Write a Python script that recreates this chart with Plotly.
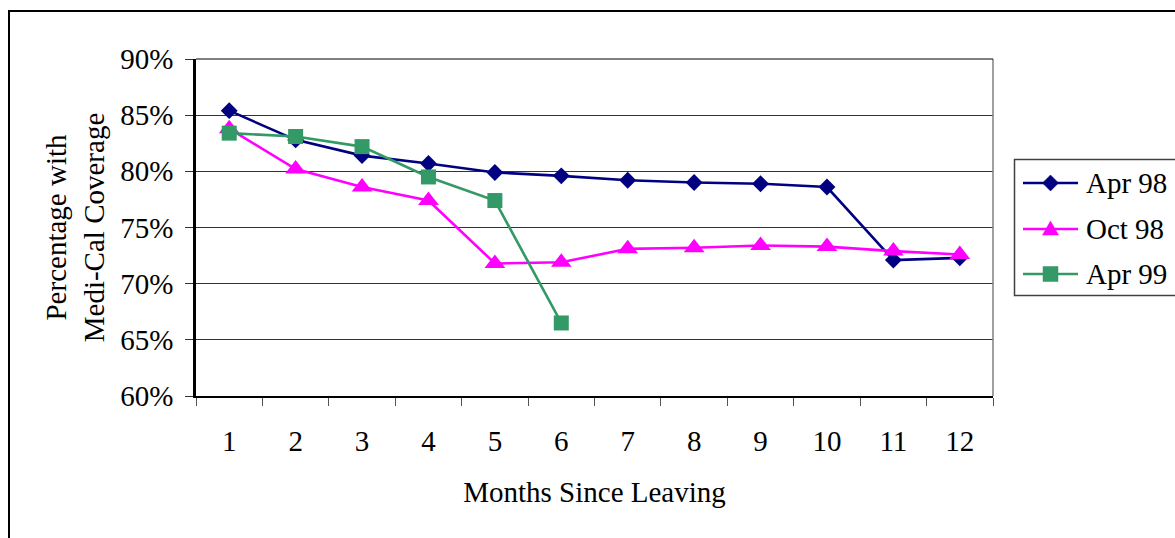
import plotly.graph_objects as go

# Months since leaving (category axis)
months = ["1", "2", "3", "4", "5", "6", "7", "8", "9", "10", "11", "12"]

# Share of leavers with Medi-Cal coverage, by exit cohort (percent)
apr98 = [85.4, 82.8, 81.4, 80.7, 79.9, 79.6, 79.2, 79.0, 78.9, 78.6, 72.1, 72.3]
oct98 = [83.8, 80.2, 78.6, 77.4, 71.8, 71.9, 73.1, 73.2, 73.4, 73.3, 72.9, 72.6]
apr99 = [83.4, 83.1, 82.2, 79.5, 77.4, 66.5]

cohorts = ["Apr 98", "Oct 98", "Apr 99"]
y_ticks = [60, 65, 70, 75, 80, 85, 90]

FONT = "Liberation Serif, Times New Roman, serif"
FS = 29

colors = ["#000080", "#FF00FF", "#339966"]
symbols = ["diamond", "triangle-up", "square"]
sizes = [13, 18, 15]

# legend glyphs as pixel paths centred on their anchor
glyph_paths = [
    "M -8 0 L 0 8 L 8 0 L 0 -8 Z",
    "M -8 -6 L 8 -6 L 0 8 Z",
    "M -7.5 -7.5 L 7.5 -7.5 L 7.5 7.5 L -7.5 7.5 Z",
]

W, H = 1175, 538
L, R, T, B = 196, 182, 59, 142
pw, ph = W - L - R, H - T - B


def px_x(x):
    return (x - L) / pw


def px_y(y):
    return (H - B - y) / ph


fig = go.Figure()

for name, vals, color, symbol, size in zip(cohorts, [apr98, oct98, apr99],
                                           colors, symbols, sizes):
    fig.add_trace(go.Scatter(
        x=months[:len(vals)], y=vals, name=name, mode="lines+markers",
        showlegend=False,
        line=dict(color=color, width=2.6),
        marker=dict(symbol=symbol, size=size, color=color, line=dict(width=0)),
    ))

# Legend drawn by hand: a line sample, its marker and the cohort label
leg_rows = [183, 229, 274]
leg_x0, leg_x1, leg_text = 1023, 1078, 1084
shapes = []
annotations = []
for name, color, glyph, yrow in zip(cohorts, colors, glyph_paths, leg_rows):
    shapes.append(dict(type="line", xref="paper", yref="paper",
                       x0=px_x(leg_x0), x1=px_x(leg_x1),
                       y0=px_y(yrow), y1=px_y(yrow),
                       line=dict(color=color, width=2.6)))
    shapes.append(dict(type="path", xref="paper", yref="paper",
                       xsizemode="pixel", ysizemode="pixel",
                       xanchor=px_x((leg_x0 + leg_x1) / 2),
                       yanchor=px_y(yrow),
                       path=glyph, fillcolor=color,
                       line=dict(color=color, width=0.5)))
    annotations.append(dict(text=name, xref="paper", yref="paper",
                            x=px_x(leg_text), y=px_y(yrow),
                            xanchor="left", yanchor="middle", showarrow=False,
                            font=dict(family=FONT, size=FS, color="black")))

shapes += [
    # outer frame around the whole chart
    dict(type="rect", xref="paper", yref="paper",
         x0=px_x(9), x1=px_x(1300), y0=px_y(11), y1=px_y(700),
         line=dict(color="black", width=2), layer="below"),
    # plot area right and top edges
    dict(type="line", xref="paper", yref="paper", x0=1, x1=1, y0=0, y1=1,
         line=dict(color="#808080", width=1.5)),
    dict(type="line", xref="paper", yref="paper", x0=0, x1=1, y0=1, y1=1,
         line=dict(color="black", width=1.2)),
    # legend box
    dict(type="rect", xref="paper", yref="paper",
         x0=px_x(1014.5), x1=px_x(1300), y0=px_y(159.5), y1=px_y(295.5),
         line=dict(color="#404040", width=1.5)),
]

fig.update_layout(
    width=W, height=H,
    margin=dict(l=L, r=R, t=T, b=B),
    paper_bgcolor="white", plot_bgcolor="white",
    font=dict(family=FONT, size=FS, color="black"),
    showlegend=False,
    shapes=shapes,
    annotations=annotations,
    xaxis=dict(
        type="category", categoryorder="array", categoryarray=months,
        range=[-0.5, 11.5],
        showgrid=False, zeroline=False,
        showline=True, linecolor="black", linewidth=1.5,
        ticks="outside", tickson="boundaries", ticklen=8,
        tickcolor="#555555", tickwidth=1.2,
        ticklabelstandoff=18,
        tickfont=dict(family=FONT, size=FS),
        title=dict(text="Months Since Leaving", standoff=26,
                   font=dict(family=FONT, size=FS)),
    ),
    yaxis=dict(
        range=[60, 90], tickvals=y_ticks,
        ticktext=[f"{v}%" for v in y_ticks],
        showgrid=True, gridcolor="#333333", gridwidth=1.2,
        zeroline=False,
        showline=True, linecolor="black", linewidth=2.5,
        ticks="outside", ticklen=8, tickcolor="#333333", tickwidth=1.2,
        ticklabelstandoff=6,
        tickfont=dict(family=FONT, size=FS),
        title=dict(text="Percentage with<br>Medi-Cal Coverage", standoff=8,
                   font=dict(family=FONT, size=FS)),
    ),
)

fig.write_html("out.html")
